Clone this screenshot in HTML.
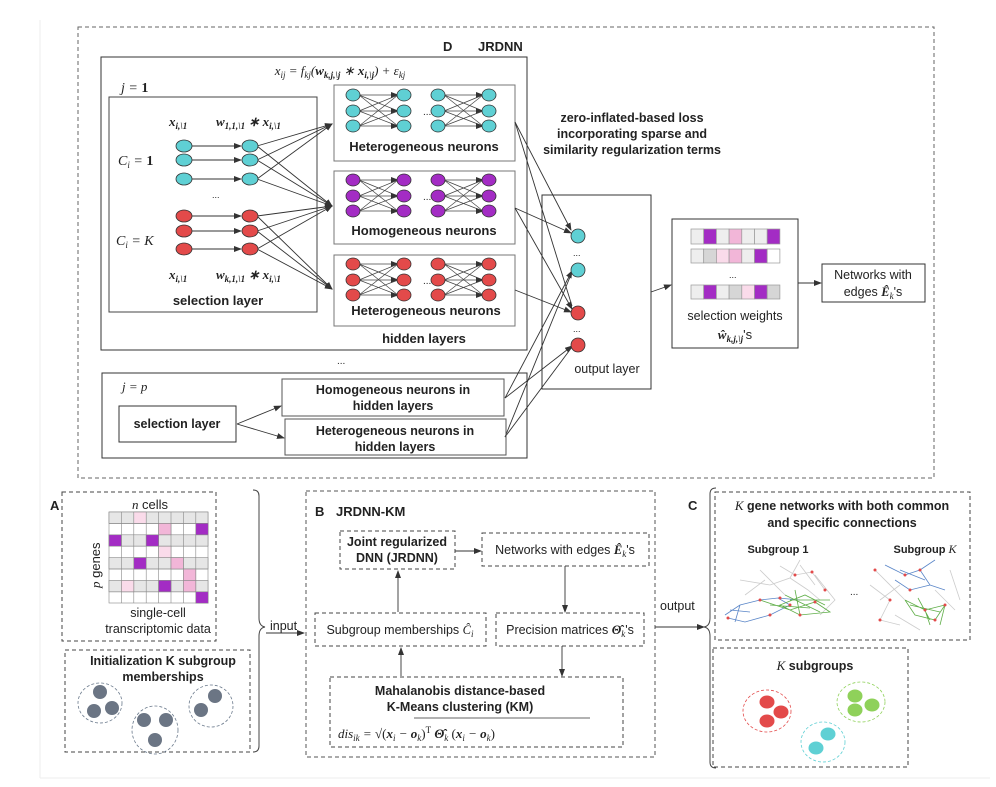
<!DOCTYPE html>
<html><head><meta charset="utf-8"><style>
html,body{margin:0;padding:0;background:#fff}
svg{display:block}
text{font-family:"Liberation Sans",sans-serif;fill:#222}
.b{font-weight:bold}
.m{font-family:"Liberation Serif",serif;font-style:italic}
.mb{font-family:"Liberation Serif",serif;font-style:italic;font-weight:bold}
</style></head><body>
<svg width="996" height="787" viewBox="0 0 996 787" xmlns="http://www.w3.org/2000/svg">
<defs>
<marker id="a" markerWidth="8" markerHeight="8" refX="7" refY="3" orient="auto" markerUnits="userSpaceOnUse"><path d="M0,0 L8,3 L0,6 z" fill="#333"/></marker>
<g id="x6" stroke="#444" stroke-width="0.7" fill="none">
<line x1="6" y1="0" x2="45" y2="0" marker-end="url(#a)"/><line x1="6" y1="0" x2="45" y2="16"/><line x1="6" y1="0" x2="45" y2="31"/>
<line x1="6" y1="16" x2="45" y2="0"/><line x1="6" y1="16" x2="45" y2="16" marker-end="url(#a)"/><line x1="6" y1="16" x2="45" y2="31"/>
<line x1="6" y1="31" x2="45" y2="0"/><line x1="6" y1="31" x2="45" y2="16"/><line x1="6" y1="31" x2="45" y2="31" marker-end="url(#a)"/>
</g>
<g id="n6" stroke="#333" stroke-width="0.8">
<ellipse cx="0" cy="0" rx="7" ry="6"/><ellipse cx="0" cy="16" rx="7" ry="6"/><ellipse cx="0" cy="31" rx="7" ry="6"/>
<ellipse cx="51" cy="0" rx="7" ry="6"/><ellipse cx="51" cy="16" rx="7" ry="6"/><ellipse cx="51" cy="31" rx="7" ry="6"/>
</g>
<g id="blk"><use href="#x6"/><use href="#n6"/><text x="70" y="20" font-size="10">...</text><use href="#x6" x="85"/><use href="#n6" x="85"/></g>
</defs>

<line x1="40" y1="20" x2="40" y2="778" stroke="#eee"/>
<line x1="40" y1="778" x2="990" y2="778" stroke="#eee"/>

<rect x="78" y="27" width="856" height="451" fill="none" stroke="#666" stroke-dasharray="4,3"/>
<text x="443" y="51" class="b" font-size="13">D</text>
<text x="478" y="51" class="b" font-size="13">JRDNN</text>

<rect x="101" y="57" width="426" height="293" fill="none" stroke="#333"/>
<text x="340" y="75" class="m" font-size="13" text-anchor="middle">x<tspan font-size="9" dy="3">ij</tspan><tspan dy="-3"> = f</tspan><tspan font-size="9" dy="3">kj</tspan><tspan dy="-3">(</tspan><tspan class="mb">w</tspan><tspan font-size="9" dy="3" class="mb">k,j,\j</tspan><tspan dy="-3"> ∗ </tspan><tspan class="mb">x</tspan><tspan font-size="9" dy="3" class="mb">i,\j</tspan><tspan dy="-3">) + ε</tspan><tspan font-size="9" dy="3">kj</tspan></text>
<text x="121" y="92" class="m" font-size="14">j = <tspan font-weight="bold" font-style="normal">1</tspan></text>

<rect x="109" y="97" width="208" height="215" fill="none" stroke="#444"/>
<text x="169" y="126" class="mb" font-size="13">x<tspan font-size="9" dy="3">i,\1</tspan></text>
<text x="216" y="126" class="mb" font-size="13">w<tspan font-size="9" dy="3">1,1,\1</tspan><tspan dy="-3"> ∗ x</tspan><tspan font-size="9" dy="3">i,\1</tspan></text>
<text x="118" y="165" class="m" font-size="14">C<tspan font-size="9" dy="3">i</tspan><tspan dy="-3"> = </tspan><tspan font-weight="bold" font-style="normal">1</tspan></text>
<text x="116" y="245" class="m" font-size="14">C<tspan font-size="9" dy="3">i</tspan><tspan dy="-3"> = K</tspan></text>
<text x="212" y="198" font-size="9">...</text>
<text x="169" y="279" class="mb" font-size="13">x<tspan font-size="9" dy="3">i,\1</tspan></text>
<text x="216" y="279" class="mb" font-size="13">w<tspan font-size="9" dy="3">k,1,\1</tspan><tspan dy="-3"> ∗ x</tspan><tspan font-size="9" dy="3">i,\1</tspan></text>
<text x="218" y="305" class="b" font-size="13" text-anchor="middle">selection layer</text>

<g stroke="#333" stroke-width="0.9" fill="none">
<line x1="192" y1="146" x2="241" y2="146" marker-end="url(#a)"/>
<line x1="192" y1="160" x2="241" y2="160" marker-end="url(#a)"/>
<line x1="192" y1="179" x2="241" y2="179" marker-end="url(#a)"/>
<line x1="192" y1="216" x2="241" y2="216" marker-end="url(#a)"/>
<line x1="192" y1="231" x2="241" y2="231" marker-end="url(#a)"/>
<line x1="192" y1="249" x2="241" y2="249" marker-end="url(#a)"/>
<line x1="257" y1="146" x2="332" y2="124" marker-end="url(#a)"/>
<line x1="257" y1="160" x2="332" y2="124" marker-end="url(#a)"/>
<line x1="257" y1="179" x2="332" y2="124" marker-end="url(#a)"/>
<line x1="257" y1="146" x2="332" y2="206" marker-end="url(#a)"/>
<line x1="257" y1="160" x2="332" y2="206" marker-end="url(#a)"/>
<line x1="257" y1="179" x2="332" y2="206" marker-end="url(#a)"/>
<line x1="257" y1="216" x2="332" y2="206" marker-end="url(#a)"/>
<line x1="257" y1="231" x2="332" y2="206" marker-end="url(#a)"/>
<line x1="257" y1="249" x2="332" y2="206" marker-end="url(#a)"/>
<line x1="257" y1="216" x2="332" y2="289" marker-end="url(#a)"/>
<line x1="257" y1="231" x2="332" y2="289" marker-end="url(#a)"/>
<line x1="257" y1="249" x2="332" y2="289" marker-end="url(#a)"/>
</g>
<g stroke="#333" stroke-width="0.8">
<g fill="#5fd0d4"><ellipse cx="184" cy="146" rx="8" ry="6"/><ellipse cx="184" cy="160" rx="8" ry="6"/><ellipse cx="184" cy="179" rx="8" ry="6"/><ellipse cx="250" cy="146" rx="8" ry="6"/><ellipse cx="250" cy="160" rx="8" ry="6"/><ellipse cx="250" cy="179" rx="8" ry="6"/></g>
<g fill="#e34a4a"><ellipse cx="184" cy="216" rx="8" ry="6"/><ellipse cx="184" cy="231" rx="8" ry="6"/><ellipse cx="184" cy="249" rx="8" ry="6"/><ellipse cx="250" cy="216" rx="8" ry="6"/><ellipse cx="250" cy="231" rx="8" ry="6"/><ellipse cx="250" cy="249" rx="8" ry="6"/></g>
</g>

<rect x="334" y="85" width="181" height="76" fill="none" stroke="#777"/>
<use href="#blk" x="353" y="95" fill="#5fd0d4"/>
<text x="424" y="151" class="b" font-size="13" text-anchor="middle">Heterogeneous neurons</text>
<rect x="334" y="171" width="181" height="73" fill="none" stroke="#777"/>
<use href="#blk" x="353" y="180" fill="#a32cc4"/>
<text x="424" y="235" class="b" font-size="13" text-anchor="middle">Homogeneous neurons</text>
<rect x="334" y="255" width="181" height="71" fill="none" stroke="#777"/>
<use href="#blk" x="353" y="264" fill="#e34a4a"/>
<text x="426" y="315" class="b" font-size="13" text-anchor="middle">Heterogeneous neurons</text>
<text x="424" y="343" class="b" font-size="13" text-anchor="middle">hidden layers</text>

<text x="632" y="122" class="b" font-size="12.5" text-anchor="middle">zero-inflated-based loss</text>
<text x="632" y="138" class="b" font-size="12.5" text-anchor="middle">incorporating sparse and</text>
<text x="632" y="154" class="b" font-size="12.5" text-anchor="middle">similarity regularization terms</text>

<rect x="542" y="195" width="109" height="194" fill="none" stroke="#333"/>
<g stroke="#333" stroke-width="0.9" fill="none">
<line x1="515" y1="122" x2="571" y2="230" marker-end="url(#a)"/>
<line x1="515" y1="208" x2="571" y2="233" marker-end="url(#a)"/>
<line x1="515" y1="208" x2="572" y2="309" marker-end="url(#a)"/>
<line x1="515" y1="122" x2="572" y2="306"/>
<line x1="515" y1="290" x2="571" y2="312" marker-end="url(#a)"/>
<line x1="505" y1="398" x2="572" y2="271" marker-end="url(#a)"/>
<line x1="505" y1="437" x2="572" y2="272"/>
<line x1="505" y1="398" x2="572" y2="346" marker-end="url(#a)"/>
<line x1="505" y1="437" x2="572" y2="347"/>
<line x1="651" y1="292" x2="671" y2="285" marker-end="url(#a)"/>
<line x1="798" y1="283" x2="821" y2="283" marker-end="url(#a)"/>
</g>
<g stroke="#333" stroke-width="0.8">
<ellipse cx="578" cy="236" rx="7" ry="7" fill="#5fd0d4"/><ellipse cx="578" cy="270" rx="7" ry="7" fill="#5fd0d4"/>
<ellipse cx="578" cy="313" rx="7" ry="7" fill="#e34a4a"/><ellipse cx="578" cy="345" rx="7" ry="7" fill="#e34a4a"/>
</g>
<text x="573" y="256" font-size="9">...</text><text x="573" y="332" font-size="9">...</text>
<text x="607" y="373" font-size="12.5" text-anchor="middle">output layer</text>

<rect x="672" y="219" width="126" height="129" fill="none" stroke="#333"/>
<g stroke="#999" stroke-width="0.7">
<rect x="691" y="229" width="12.7" height="15" fill="#eee"/><rect x="703.7" y="229" width="12.7" height="15" fill="#a32cc4"/><rect x="716.4" y="229" width="12.7" height="15" fill="#eee"/><rect x="729.1" y="229" width="12.7" height="15" fill="#f2b6d8"/><rect x="741.8" y="229" width="12.7" height="15" fill="#eee"/><rect x="754.5" y="229" width="12.7" height="15" fill="#eee"/><rect x="767.2" y="229" width="12.7" height="15" fill="#a32cc4"/>
<rect x="691" y="249" width="12.7" height="14" fill="#eee"/><rect x="703.7" y="249" width="12.7" height="14" fill="#d6d6d6"/><rect x="716.4" y="249" width="12.7" height="14" fill="#fadbea"/><rect x="729.1" y="249" width="12.7" height="14" fill="#f2b6d8"/><rect x="741.8" y="249" width="12.7" height="14" fill="#eee"/><rect x="754.5" y="249" width="12.7" height="14" fill="#a32cc4"/><rect x="767.2" y="249" width="12.7" height="14" fill="#fff"/>
<rect x="691" y="285" width="12.7" height="14" fill="#eee"/><rect x="703.7" y="285" width="12.7" height="14" fill="#a32cc4"/><rect x="716.4" y="285" width="12.7" height="14" fill="#eee"/><rect x="729.1" y="285" width="12.7" height="14" fill="#d6d6d6"/><rect x="741.8" y="285" width="12.7" height="14" fill="#fadbea"/><rect x="754.5" y="285" width="12.7" height="14" fill="#a32cc4"/><rect x="767.2" y="285" width="12.7" height="14" fill="#d6d6d6"/>
</g>
<text x="729" y="278" font-size="9">...</text>
<text x="735" y="320" font-size="12.5" text-anchor="middle">selection weights</text>
<text x="735" y="339" class="mb" font-size="13" text-anchor="middle">ŵ<tspan font-size="9" dy="3">k,j,\j</tspan><tspan dy="-3" font-family="Liberation Sans" font-style="normal" font-weight="normal">'s</tspan></text>

<rect x="822" y="264" width="103" height="38" fill="none" stroke="#333"/>
<text x="873" y="279" font-size="12.5" text-anchor="middle">Networks with</text>
<text x="873" y="296" font-size="12.5" text-anchor="middle">edges <tspan class="mb">Ê</tspan><tspan class="m" font-size="9" dy="3">k</tspan><tspan dy="-3">'s</tspan></text>

<text x="337" y="364" font-size="10">...</text>

<rect x="102" y="373" width="425" height="85" fill="none" stroke="#333"/>
<text x="122" y="391" class="m" font-size="13">j = p</text>
<rect x="119" y="406" width="117" height="36" fill="none" stroke="#333"/>
<text x="177" y="428" class="b" font-size="12.5" text-anchor="middle">selection layer</text>
<rect x="282" y="379" width="222" height="37" fill="none" stroke="#555"/>
<text x="393" y="394" class="b" font-size="12.5" text-anchor="middle">Homogeneous neurons in</text>
<text x="393" y="410" class="b" font-size="12.5" text-anchor="middle">hidden layers</text>
<rect x="285" y="419" width="221" height="36" fill="none" stroke="#555"/>
<text x="395" y="435" class="b" font-size="12.5" text-anchor="middle">Heterogeneous neurons in</text>
<text x="395" y="451" class="b" font-size="12.5" text-anchor="middle">hidden layers</text>
<g stroke="#333" stroke-width="0.9"><line x1="237" y1="424" x2="281" y2="406" marker-end="url(#a)"/><line x1="237" y1="424" x2="284" y2="438" marker-end="url(#a)"/></g>

<text x="50" y="510" class="b" font-size="13">A</text>
<rect x="62" y="492" width="154" height="149" fill="none" stroke="#444" stroke-dasharray="4,3"/>
<text x="150" y="509" font-size="13" text-anchor="middle"><tspan class="m">n</tspan> cells</text>
<g stroke="#888" stroke-width="0.6">
<rect x="109" y="512" width="99" height="91" fill="#fff"/>
<g fill="#e6e6e6">
<rect x="109" y="512" width="99" height="11.4"/>
<rect x="109" y="534.8" width="99" height="11.4"/>
<rect x="109" y="557.6" width="99" height="11.4"/>
<rect x="109" y="580.4" width="99" height="11.4"/>
</g>
<g fill="none">
<line x1="121.4" y1="512" x2="121.4" y2="603"/><line x1="133.8" y1="512" x2="133.8" y2="603"/><line x1="146.2" y1="512" x2="146.2" y2="603"/><line x1="158.6" y1="512" x2="158.6" y2="603"/><line x1="171" y1="512" x2="171" y2="603"/><line x1="183.4" y1="512" x2="183.4" y2="603"/><line x1="195.8" y1="512" x2="195.8" y2="603"/>
<line x1="109" y1="523.4" x2="208" y2="523.4"/><line x1="109" y1="546.2" x2="208" y2="546.2"/><line x1="109" y1="569" x2="208" y2="569"/><line x1="109" y1="591.8" x2="208" y2="591.8"/>
</g>
<rect x="133.8" y="512" width="12.4" height="11.4" fill="#fadbea"/>
<rect x="158.6" y="523.4" width="12.4" height="11.4" fill="#f2b6d8"/><rect x="195.8" y="523.4" width="12.4" height="11.4" fill="#a32cc4"/>
<rect x="109" y="534.8" width="12.4" height="11.4" fill="#a32cc4"/><rect x="146.2" y="534.8" width="12.4" height="11.4" fill="#a32cc4"/>
<rect x="158.6" y="546.2" width="12.4" height="11.4" fill="#fadbea"/>
<rect x="133.8" y="557.6" width="12.4" height="11.4" fill="#a32cc4"/><rect x="171" y="557.6" width="12.4" height="11.4" fill="#f2b6d8"/>
<rect x="183.4" y="569" width="12.4" height="11.4" fill="#f2b6d8"/>
<rect x="121.4" y="580.4" width="12.4" height="11.4" fill="#fadbea"/><rect x="158.6" y="580.4" width="12.4" height="11.4" fill="#a32cc4"/><rect x="183.4" y="580.4" width="12.4" height="11.4" fill="#f2b6d8"/>
<rect x="195.8" y="591.8" width="12.4" height="11.4" fill="#a32cc4"/>
</g>
<text x="0" y="0" font-size="13" transform="translate(100,588) rotate(-90)"><tspan class="m">p</tspan> genes</text>
<text x="158" y="617" font-size="12.5" text-anchor="middle">single-cell</text>
<text x="158" y="633" font-size="12.5" text-anchor="middle">transcriptomic data</text>

<rect x="65" y="650" width="185" height="102" fill="none" stroke="#444" stroke-dasharray="4,3"/>
<text x="163" y="665" class="b" font-size="12.5" text-anchor="middle">Initialization K subgroup</text>
<text x="163" y="681" class="b" font-size="12.5" text-anchor="middle">memberships</text>
<g fill="none" stroke="#6b7a8c" stroke-dasharray="3,2" stroke-width="0.8">
<ellipse cx="100" cy="703" rx="22" ry="20"/><ellipse cx="155" cy="730" rx="23" ry="24"/><ellipse cx="211" cy="706" rx="22" ry="21"/>
</g>
<g fill="#6b7584">
<circle cx="100" cy="692" r="7"/><circle cx="94" cy="711" r="7"/><circle cx="112" cy="708" r="7"/>
<circle cx="144" cy="720" r="7"/><circle cx="166" cy="720" r="7"/><circle cx="155" cy="740" r="7"/>
<circle cx="215" cy="696" r="7"/><circle cx="201" cy="710" r="7"/>
</g>
<path d="M253,490 q6,0 6,6 v122 q0,8 6,9 q-6,1 -6,9 v110 q0,6 -6,6" fill="none" stroke="#444"/>
<text x="270" y="630" font-size="12.5">input</text>
<line x1="266" y1="633" x2="304" y2="633" stroke="#333" marker-end="url(#a)"/>

<rect x="306" y="491" width="349" height="266" fill="none" stroke="#555" stroke-dasharray="4,3"/>
<text x="315" y="516" class="b" font-size="13">B</text>
<text x="336" y="516" class="b" font-size="13">JRDNN-KM</text>
<rect x="340" y="531" width="115" height="38" fill="none" stroke="#444" stroke-dasharray="4,3"/>
<text x="397" y="546" class="b" font-size="12.5" text-anchor="middle">Joint regularized</text>
<text x="397" y="562" class="b" font-size="12.5" text-anchor="middle">DNN (JRDNN)</text>
<rect x="482" y="533" width="167" height="33" fill="none" stroke="#444" stroke-dasharray="4,3"/>
<text x="565" y="554" font-size="12.5" text-anchor="middle">Networks with edges <tspan class="mb">Ê</tspan><tspan class="m" font-size="9" dy="3">k</tspan><tspan dy="-3">'s</tspan></text>
<rect x="315" y="613" width="171" height="33" fill="none" stroke="#444" stroke-dasharray="4,3"/>
<text x="400" y="634" font-size="12.5" text-anchor="middle">Subgroup memberships <tspan class="m">Ĉ</tspan><tspan class="m" font-size="9" dy="3">i</tspan></text>
<rect x="496" y="613" width="148" height="33" fill="none" stroke="#444" stroke-dasharray="4,3"/>
<text x="570" y="634" font-size="12.5" text-anchor="middle">Precision matrices <tspan class="mb">Θ̂</tspan><tspan class="m" font-size="9" dy="3">k</tspan><tspan dy="-3">'s</tspan></text>
<rect x="330" y="677" width="293" height="70" fill="none" stroke="#444" stroke-dasharray="4,3"/>
<text x="460" y="695" class="b" font-size="12.5" text-anchor="middle">Mahalanobis distance-based</text>
<text x="460" y="711" class="b" font-size="12.5" text-anchor="middle">K-Means clustering (KM)</text>
<text x="338" y="738" class="m" font-size="13">dis<tspan font-size="9" dy="3">ik</tspan><tspan dy="-3"> = √</tspan><tspan font-style="normal">(</tspan><tspan class="mb">x</tspan><tspan font-size="9" dy="3">i</tspan><tspan dy="-3"> − </tspan><tspan class="mb">o</tspan><tspan font-size="9" dy="3">k</tspan><tspan dy="-3" font-style="normal">)</tspan><tspan font-size="9" dy="-5" font-style="normal">T</tspan><tspan dy="5"> </tspan><tspan class="mb">Θ̂</tspan><tspan font-size="9" dy="3">k</tspan><tspan dy="-3" font-style="normal"> (</tspan><tspan class="mb">x</tspan><tspan font-size="9" dy="3">i</tspan><tspan dy="-3"> − </tspan><tspan class="mb">o</tspan><tspan font-size="9" dy="3">k</tspan><tspan dy="-3" font-style="normal">)</tspan></text>
<line x1="414" y1="718" x2="590" y2="718" stroke="#333" stroke-width="0.8"/>
<g stroke="#333" stroke-width="0.9">
<line x1="455" y1="551" x2="481" y2="551" marker-end="url(#a)"/>
<line x1="398" y1="612" x2="398" y2="571" marker-end="url(#a)"/>
<line x1="565" y1="566" x2="565" y2="612" marker-end="url(#a)"/>
<line x1="562" y1="646" x2="562" y2="676" marker-end="url(#a)"/>
<line x1="401" y1="676" x2="401" y2="648" marker-end="url(#a)"/>
<line x1="655" y1="627" x2="704" y2="627" marker-end="url(#a)"/>
</g>
<text x="660" y="610" font-size="12.5">output</text>

<path d="M716,488 q-6,0 -6,6 v124 q0,8 -6,9 q6,1 6,9 v126 q0,6 6,6" fill="none" stroke="#444"/>
<text x="688" y="510" class="b" font-size="13">C</text>
<rect x="715" y="492" width="255" height="148" fill="none" stroke="#444" stroke-dasharray="4,3"/>
<text x="842" y="510" class="b" font-size="12.5" text-anchor="middle"><tspan class="m" font-weight="normal" font-size="13">K</tspan> gene networks with both common</text>
<text x="842" y="527" class="b" font-size="12.5" text-anchor="middle">and specific connections</text>
<text x="778" y="553" class="b" font-size="11" text-anchor="middle">Subgroup 1</text>
<text x="925" y="553" class="b" font-size="11" text-anchor="middle">Subgroup <tspan class="m" font-weight="normal" font-size="12">K</tspan></text>
<text x="850" y="595" font-size="10">...</text>
<g stroke-width="0.8" fill="none">
<path d="M780,566 L795,575 L812,572 L825,590 M770,585 L790,578 L808,590 L820,600 M760,570 L785,595 M800,565 L815,585 M740,580 L770,585 M815,575 L835,600 L820,615 M790,578 L800,560 M745,595 L765,580" stroke="#ccc"/>
<path d="M725,615 L740,605 L760,600 L778,598 L790,605 L770,615 L745,622 L728,618 M740,605 L735,622 M778,598 L800,600 M730,610 L750,612" stroke="#5a86c8"/>
<path d="M760,600 L790,610 L815,602 L830,612 L800,615 L780,605 L805,595 L825,605 M795,590 L800,615 M785,595 L820,612 M770,605 L810,608 M790,600 L830,600" stroke="#5fae48"/>
<path d="M885,565 L905,575 L920,570 L930,585 L910,590 L895,580 M920,570 L935,560 M930,585 L945,590 M900,570 L925,580" stroke="#5a86c8"/>
<path d="M905,600 L925,610 L945,605 L935,620 L915,615 L905,600 M925,610 L930,625 M945,605 L940,625 M910,605 L940,612 M918,598 L930,620" stroke="#5fae48"/>
<path d="M870,585 L890,600 L880,620 L900,625 M875,570 L905,600 M950,570 L960,600 M880,600 L900,585 M895,615 L920,630 M935,590 L955,610" stroke="#ccc"/>
</g>
<g fill="#e34a4a">
<circle cx="795" cy="575" r="1.5"/><circle cx="812" cy="572" r="1.5"/><circle cx="790" cy="605" r="1.5"/><circle cx="770" cy="615" r="1.5"/><circle cx="728" cy="618" r="1.5"/><circle cx="800" cy="615" r="1.5"/><circle cx="815" cy="602" r="1.5"/><circle cx="760" cy="600" r="1.5"/><circle cx="780" cy="598" r="1.5"/><circle cx="825" cy="590" r="1.5"/>
<circle cx="905" cy="575" r="1.5"/><circle cx="920" cy="570" r="1.5"/><circle cx="910" cy="590" r="1.5"/><circle cx="925" cy="610" r="1.5"/><circle cx="945" cy="605" r="1.5"/><circle cx="880" cy="620" r="1.5"/><circle cx="890" cy="600" r="1.5"/><circle cx="935" cy="620" r="1.5"/><circle cx="875" cy="570" r="1.5"/>
</g>

<rect x="713" y="648" width="195" height="119" fill="none" stroke="#444" stroke-dasharray="4,3"/>
<text x="815" y="670" class="b" font-size="12.5" text-anchor="middle"><tspan class="m" font-weight="normal" font-size="13">K</tspan> subgroups</text>
<ellipse cx="767" cy="711" rx="24" ry="21" fill="none" stroke="#e34a4a" stroke-dasharray="3,2" stroke-width="0.8"/>
<ellipse cx="861" cy="702" rx="24" ry="20" fill="none" stroke="#8fd15a" stroke-dasharray="3,2" stroke-width="0.8"/>
<ellipse cx="823" cy="742" rx="22" ry="20" fill="none" stroke="#5fd0d4" stroke-dasharray="3,2" stroke-width="0.8"/>
<g fill="#e34a4a"><ellipse cx="767" cy="702" rx="7.5" ry="6.5"/><ellipse cx="781" cy="712" rx="7.5" ry="6.5"/><ellipse cx="767" cy="721" rx="7.5" ry="6.5"/></g>
<g fill="#8fd15a"><ellipse cx="855" cy="696" rx="7.5" ry="6.5"/><ellipse cx="872" cy="705" rx="7.5" ry="6.5"/><ellipse cx="855" cy="710" rx="7.5" ry="6.5"/></g>
<g fill="#5fd0d4"><ellipse cx="828" cy="734" rx="7.5" ry="6.5"/><ellipse cx="816" cy="748" rx="7.5" ry="6.5"/></g>
</svg>
</body></html>
